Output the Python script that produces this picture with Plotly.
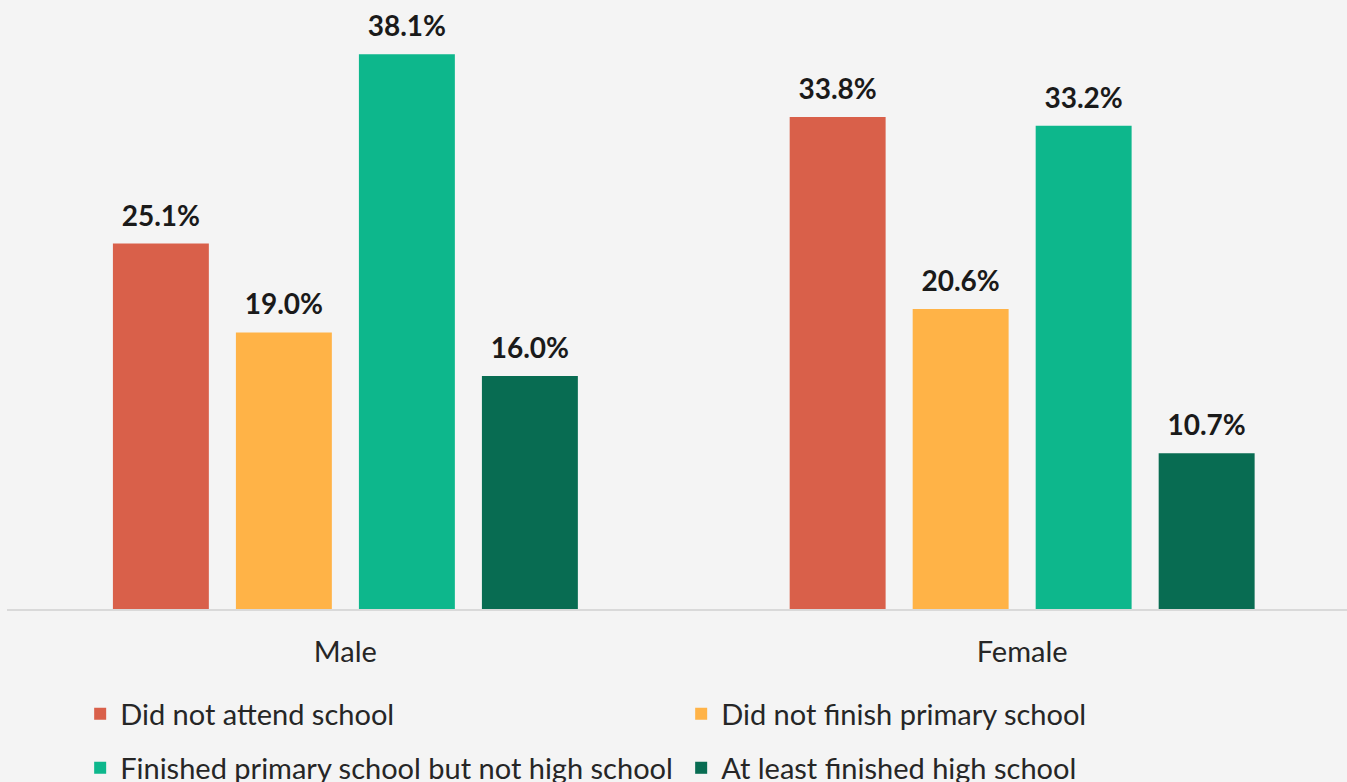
import plotly.graph_objects as go

# Education attainment by sex (percent of respondents)
groups = ["Male", "Female"]
levels = [
    "Did not attend school",
    "Did not finish primary school",
    "Finished primary school but not high school",
    "At least finished high school",
]
did_not_attend = [25.1, 33.8]
not_finish_primary = [19.0, 20.6]
primary_not_high = [38.1, 33.2]
high_school_plus = [16.0, 10.7]

series = [did_not_attend, not_finish_primary, primary_not_high, high_school_plus]
colors = ["#D9604A", "#FFB347", "#0DB78C", "#086C52"]
legend_ids = ["legend", "legend", "legend2", "legend2"]

BG = "#F4F4F4"
FONT = "Lato"
BARGAP = 0.273

fig = go.Figure()

for i, (name, vals, col) in enumerate(zip(levels, series, colors)):
    fig.add_trace(go.Bar(
        x=groups, y=vals, name=name,
        marker=dict(color=col, line=dict(width=0)),
        offsetgroup=str(i),
        legend=legend_ids[i],
        hoverinfo="skip",
    ))

# value labels sitting above each bar
for i, vals in enumerate(series):
    fig.add_trace(go.Scatter(
        x=groups, y=vals, mode="markers+text",
        text=[f"{v:.1f}%" for v in vals],
        textposition="top center",
        textfont=dict(family=FONT, size=28, color="#1A1A1A", weight="bold"),
        marker=dict(size=16, opacity=0),
        offsetgroup=str(i),
        showlegend=False,
        hoverinfo="skip",
        cliponaxis=False,
    ))

legend_common = dict(
    orientation="h",
    xanchor="left", yanchor="middle",
    x=0.0546,
    entrywidth=556, entrywidthmode="pixels",
    font=dict(family=FONT, size=29, color="#262626"),
    bgcolor="rgba(0,0,0,0)",
    traceorder="normal",
)

fig.update_layout(
    width=1347, height=782,
    margin=dict(l=7, r=0, t=0, b=173, autoexpand=False),
    paper_bgcolor=BG, plot_bgcolor=BG,
    barmode="group", bargap=BARGAP, bargroupgap=0.22,
    scattermode="group", scattergap=BARGAP,
    legend=dict(y=-0.1724, **legend_common),
    legend2=dict(y=-0.261, **legend_common),
    xaxis=dict(
        type="category", range=[-0.5, 1.48],
        showline=True, linecolor="#D9D9D9", linewidth=2,
        showgrid=False, zeroline=False, ticks="",
        tickfont=dict(family=FONT, size=29, color="#262626"),
        ticklabelstandoff=16,
    ),
    yaxis=dict(
        range=[0, 41.83], visible=False,
        showgrid=False, zeroline=False,
    ),
)

fig.write_html("out.html")
